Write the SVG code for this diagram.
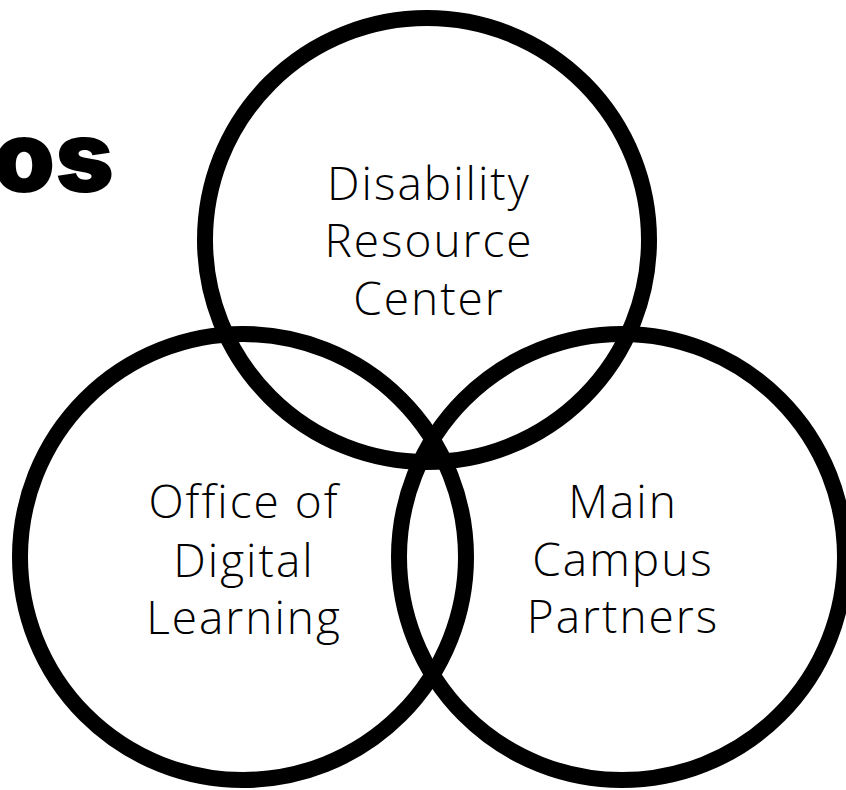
<svg xmlns="http://www.w3.org/2000/svg" width="846" height="790" viewBox="0 0 846 790">
<style>
.ring{fill:none;stroke:#000;stroke-width:16}
.lbl{font-family:"Open Sans","DejaVu Sans",sans-serif;font-weight:300;font-size:46px;letter-spacing:2px;fill:#000;text-anchor:middle}
.title{font-family:Inter,"DejaVu Sans",sans-serif;font-weight:900;font-size:100px;fill:#000;text-anchor:end}
</style>
<rect width="846" height="790" fill="#fff"/>
<text class="title" x="114" y="192">os</text>
<g id="drc">
<circle class="ring" cx="427" cy="240" r="222"/>
<text class="lbl" x="429" y="200">Disability</text>
<text class="lbl" x="429" y="257">Resource</text>
<text class="lbl" x="429" y="315">Center</text>
</g>
<g id="odl">
<circle class="ring" cx="243" cy="557" r="223"/>
<text class="lbl" x="244" y="518">Office of</text>
<text class="lbl" x="244" y="577">Digital</text>
<text class="lbl" x="244" y="634">Learning</text>
</g>
<g id="mcp">
<circle class="ring" cx="622" cy="557" r="223"/>
<text class="lbl" x="623" y="518">Main</text>
<text class="lbl" x="623" y="576">Campus</text>
<text class="lbl" x="623" y="633">Partners</text>
</g>
<g id="connectors"/>
</svg>
